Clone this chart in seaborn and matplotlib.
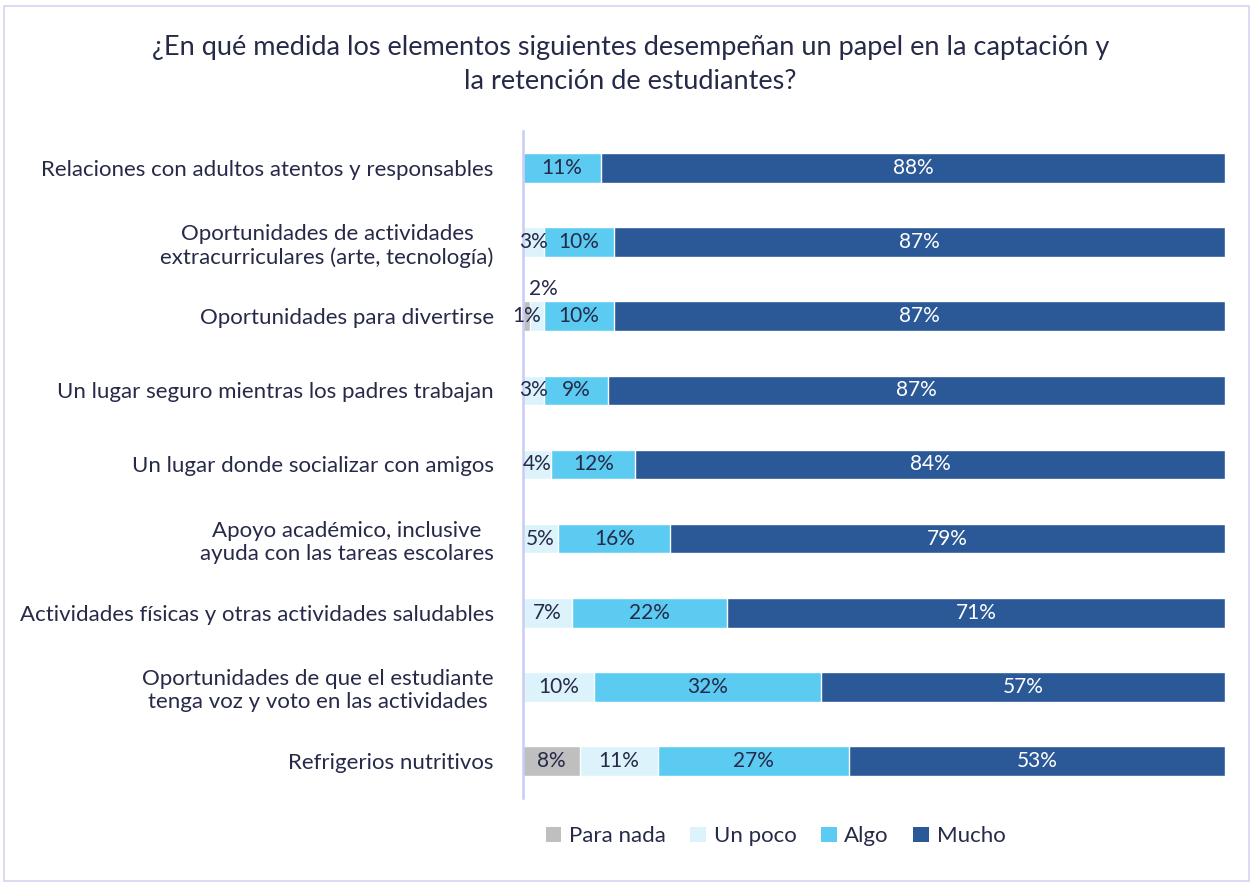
import numpy as np
import pandas as pd
import matplotlib
matplotlib.use("Agg")
import matplotlib.pyplot as plt
from matplotlib.patches import Patch, Rectangle
import seaborn as sns

# data

categories = [
    "Relaciones con adultos atentos y responsables",
    "Oportunidades de actividades\nextracurriculares (arte, tecnología)",
    "Oportunidades para divertirse",
    "Un lugar seguro mientras los padres trabajan",
    "Un lugar donde socializar con amigos",
    "Apoyo académico, inclusive\nayuda con las tareas escolares",
    "Actividades físicas y otras actividades saludables",
    "Oportunidades de que el estudiante\ntenga voz y voto en las actividades",
    "Refrigerios nutritivos",
]
series = ["Para nada", "Un poco", "Algo", "Mucho"]
para_nada = [0, 0, 1, 0, 0, 0, 0, 0, 8]
un_poco = [0, 3, 2, 3, 4, 5, 7, 10, 11]
algo = [11, 10, 10, 9, 12, 16, 22, 32, 27]
mucho = [88, 87, 87, 87, 84, 79, 71, 57, 53]

colors = ["#BFBFBF", "#DDF3FC", "#5BCBF2", "#2B5897"]
text_color = "#262A48"

sns.set_style("white")
plt.rcParams["font.family"] = ["Lato", "DejaVu Sans"]

df = pd.DataFrame({"cat": categories, "Para nada": para_nada, "Un poco": un_poco,
                   "Algo": algo, "Mucho": mucho})
vals = df[series].to_numpy(dtype=float)
share = vals / vals.sum(axis=1, keepdims=True) * 100
cum = np.cumsum(share, axis=1)

fig = plt.figure(figsize=(12.53, 8.84), dpi=100)
ax = fig.add_axes([0.4174, 0.0973, 0.5603, 0.7545])

# stacked bars drawn as cumulative layers, widest first
for i in range(len(series) - 1, -1, -1):
    layer = pd.DataFrame({"cat": categories, "x": cum[:, i]})
    sns.barplot(data=layer, x="x", y="cat", orient="h", color=colors[i],
                width=0.4, saturation=1, ax=ax, order=categories)

# data labels
for r in range(len(categories)):
    left = 0
    for i, s in enumerate(series):
        v = vals[r, i]
        w = share[r, i]
        if v > 0:
            xc = left + w / 2
            yc = r
            if categories[r] == "Oportunidades para divertirse" and s == "Un poco":
                xc += 0.9
                yc = r - 0.37
            col = "white" if s == "Mucho" else text_color
            ax.text(xc, yc, f"{int(v)}%", ha="center", va="center",
                    fontsize=15, color=col)
        left += w

ax.set_xlim(0, 100)
ax.set_ylim(len(categories) - 0.5, -0.5)
ax.set_xlabel("")
ax.set_ylabel("")
ax.set_xticks([])
ax.tick_params(axis="y", length=0, pad=21, labelsize=16, labelcolor=text_color)
for lab in ax.get_yticklabels():
    lab.set_multialignment("center")
for sp in ["top", "right", "bottom"]:
    ax.spines[sp].set_visible(False)
ax.spines["left"].set_color("#C8CCF4")
ax.spines["left"].set_linewidth(1.8)

fig.text(0.503, 0.927, "¿En qué medida los elementos siguientes desempeñan un papel en la captación y\nla retención de estudiantes?",
         ha="center", va="center", fontsize=19.5, color=text_color, linespacing=1.45)

handles = [Patch(facecolor=c, edgecolor="none") for c in colors]
fig.legend(handles, series, loc="center", bbox_to_anchor=(0.619, 0.054), ncol=4,
           frameon=False, fontsize=16, handlelength=0.7, handleheight=0.7,
           handletextpad=0.35, columnspacing=1.1, labelcolor=text_color)

fig.patches.append(Rectangle((0.003, 0.003), 0.994, 0.99, transform=fig.transFigure,
                             fill=False, edgecolor="#D3D6F2", linewidth=1.2))

fig.savefig("out.png", dpi=100)
